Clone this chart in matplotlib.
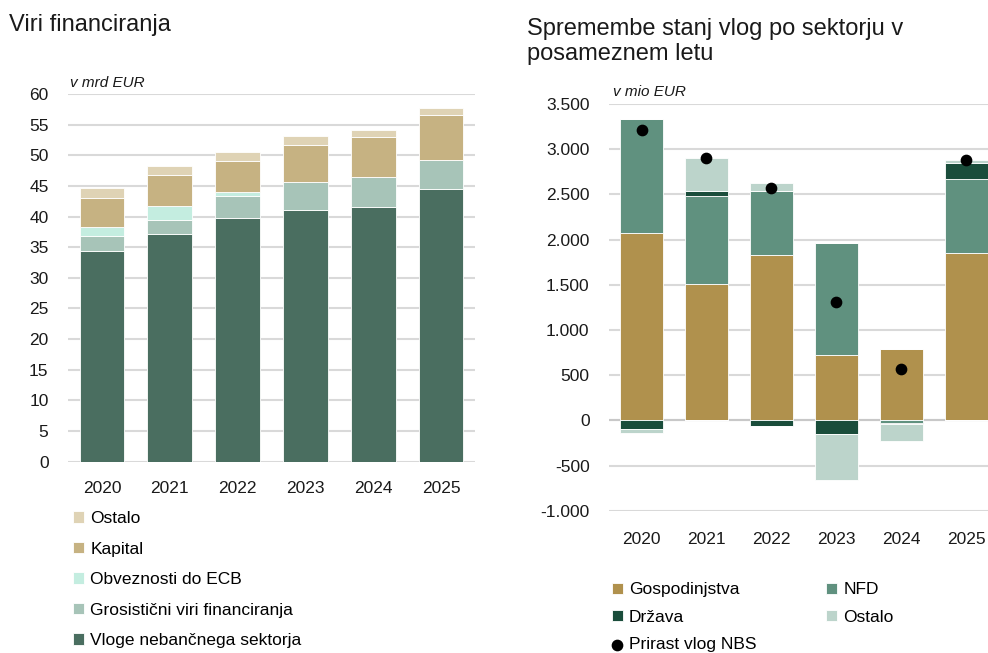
import numpy as np
import matplotlib
matplotlib.use('Agg')
import matplotlib.pyplot as plt

plt.rcParams['font.family'] = ['Liberation Sans', 'DejaVu Sans']

years = ['2020', '2021', '2022', '2023', '2024', '2025']

# left chart: sources of funding, bn EUR
vloge = [34.3, 37.2, 39.7, 41.0, 41.6, 44.5]
grosist = [2.6, 2.2, 3.6, 4.6, 4.8, 4.8]
ecb = [1.4, 2.4, 0.7, 0.05, 0.0, 0.0]
kapital = [4.8, 5.0, 5.1, 6.1, 6.6, 7.2]
ostalo_l = [1.6, 1.5, 1.5, 1.4, 1.2, 1.2]

# right chart: change in deposits by sector, mio EUR
gosp = [2070, 1510, 1827, 726, 792, 1857]
nfd = [1268, 977, 711, 1234, -35, 814]
drzava = [-92, 48, -66, -151, -10, 177]
ostalo_r = [-44, 364, 92, -508, -185, 29]
prirast = [3209, 2899, 2568, 1304, 564, 2881]

grid_c = '#d9d9d9'
txt_c = '#1a1a1a'

fig = plt.figure(figsize=(9.88, 6.53), dpi=100)

# ---- left ----
ax1 = fig.add_axes([0.0688, 0.2930, 0.412, 0.5631])
x = np.arange(len(years))
w = 0.66
left_series = [
    ('Vloge nebančnega sektorja', vloge, '#4a6e60'),
    ('Grosistični viri financiranja', grosist, '#a7c4b8'),
    ('Obveznosti do ECB', ecb, '#c4ede0'),
    ('Kapital', kapital, '#c6b282'),
    ('Ostalo', ostalo_l, '#dfd3b5'),
]
bottom = np.zeros(len(years))
handles = []
for name, vals, col in left_series:
    b = ax1.bar(x, vals, w, bottom=bottom, color=col, edgecolor='white', linewidth=0.6, label=name, zorder=3)
    handles.append(b)
    bottom += np.array(vals)

ax1.set_ylim(0, 60)
ax1.set_xlim(-0.5, 5.5)
ax1.set_yticks(np.arange(0, 61, 5))
ax1.set_xticks(x, years)
ax1.grid(axis='y', color=grid_c, linewidth=1.5, zorder=0)
for s in ax1.spines.values():
    s.set_visible(False)
ax1.tick_params(axis='both', length=0, labelsize=12.5, colors=txt_c)
ax1.tick_params(axis='y', pad=14)
ax1.tick_params(axis='x', pad=14)
ax1.text(0.005, 1.02, 'v mrd EUR', transform=ax1.transAxes, fontsize=11, style='italic', color=txt_c)

fig.text(0.009, 0.962, 'Viri financiranja', fontsize=17, color=txt_c, va='center')

fig.legend(handles[::-1], [h.get_label() for h in handles[::-1]], loc='upper left',
           bbox_to_anchor=(0.074, 0.217), frameon=False, fontsize=12.5, handlelength=0.65,
           handleheight=0.65, handletextpad=0.35, labelspacing=0.89, borderpad=0, borderaxespad=0)

# ---- right ----
ax2 = fig.add_axes([0.6164, 0.2179, 0.3947, 0.6228])
right_series = [
    ('Gospodinjstva', gosp, '#b0914d'),
    ('NFD', nfd, '#60917f'),
    ('Država', drzava, '#1a4d3b'),
    ('Ostalo', ostalo_r, '#bcd4cb'),
]
pos_b = np.zeros(len(years))
neg_b = np.zeros(len(years))
rh = {}
for name, vals, col in right_series:
    v = np.array(vals, dtype=float)
    pv = np.where(v > 0, v, 0)
    nv = np.where(v < 0, v, 0)
    b = ax2.bar(x, pv, w, bottom=pos_b, color=col, edgecolor='white', linewidth=0.6, label=name, zorder=3)
    ax2.bar(x, nv, w, bottom=neg_b, color=col, edgecolor='white', linewidth=0.6, zorder=3)
    pos_b += pv
    neg_b += nv
    rh[name] = b
dots = ax2.scatter(x, prirast, s=55, color='black', zorder=5, label='Prirast vlog NBS')

ax2.set_ylim(-1000, 3500)
ax2.set_xlim(-0.5, 5.5)
ax2.set_yticks(np.arange(-1000, 3501, 500))
ax2.set_yticklabels([f'{v:,}'.replace(',', '.') for v in range(-1000, 3501, 500)])
ax2.set_xticks(x, years)
ax2.grid(axis='y', color=grid_c, linewidth=1.5, zorder=0)
ax2.axhline(0, color='#c8c8c8', linewidth=1.5, zorder=2)
for s in ax2.spines.values():
    s.set_visible(False)
ax2.tick_params(axis='both', length=0, labelsize=12.5, colors=txt_c)
ax2.tick_params(axis='y', pad=14)
ax2.tick_params(axis='x', pad=15)
ax2.text(0.01, 1.02, 'v mio EUR', transform=ax2.transAxes, fontsize=11, style='italic', color=txt_c)

fig.text(0.533, 0.972, 'Spremembe stanj vlog po sektorju v\nposameznem letu', fontsize=17,
         color=txt_c, va='top', linespacing=1.17)

rhandles = [rh['Gospodinjstva'], rh['Država'], dots, rh['NFD'], rh['Ostalo']]
fig.legend(rhandles, [h.get_label() for h in rhandles], loc='upper left', ncol=2,
           bbox_to_anchor=(0.619, 0.108), frameon=False, fontsize=12.5, handlelength=0.65,
           handleheight=0.65, handletextpad=0.35, labelspacing=0.71, columnspacing=4.0,
           borderpad=0, borderaxespad=0)

fig.savefig('out.png', dpi=100)
